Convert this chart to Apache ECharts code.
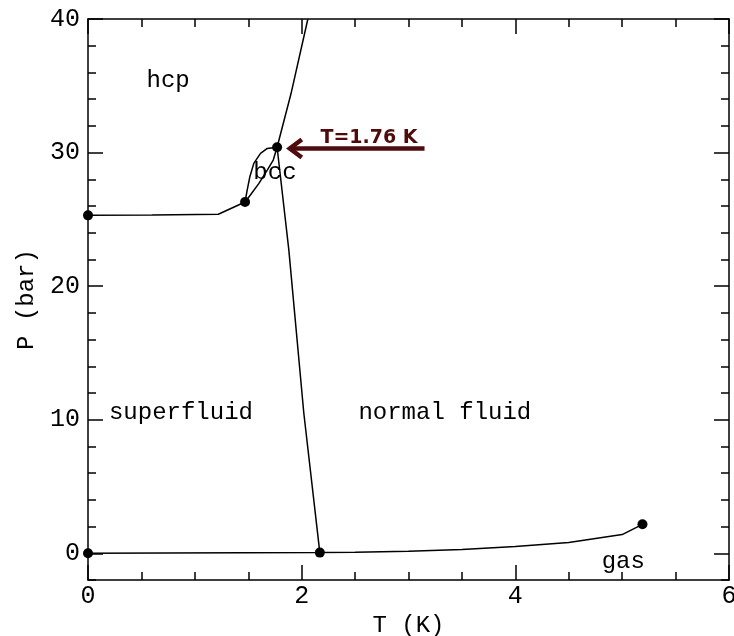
<!DOCTYPE html>
<html><head><meta charset="utf-8">
<script src="https://cdn.jsdelivr.net/npm/echarts@6/dist/echarts.min.js"></script>
<style>html,body{margin:0;padding:0;background:#fff}#c{width:734px;height:636px}</style>
</head><body><div id="c"></div>
<script>
// ---- data (T in K, P in bar) ----
const meltLowT = [0, 0.6, 1.22, 1.47];
const meltLowP = [25.3, 25.32, 25.38, 26.3];
const meltHighT = [1.77, 1.9, 2.058];
const meltHighP = [30.4, 34.4, 40];
const bccLeftT = [1.47, 1.49, 1.515, 1.552, 1.615, 1.678, 1.77];
const bccLeftP = [26.3, 27.19, 28.19, 29.19, 29.94, 30.31, 30.4];
const bccRightT = [1.47, 1.52, 1.60, 1.678, 1.734, 1.77];
const bccRightP = [26.3, 26.82, 27.69, 28.69, 29.44, 30.4];
const lambdaT = [1.77, 1.88, 2.02, 2.17];
const lambdaP = [30.4, 22.7, 10.5, 0.05];
const vaporT = [0, 2.17, 2.5, 3.0, 3.5, 4.0, 4.5, 5.0, 5.19];
const vaporP = [0, 0.05, 0.08, 0.15, 0.28, 0.5, 0.8, 1.4, 2.17];
const dotT = [0, 1.47, 1.77, 0, 2.17, 5.19];
const dotP = [25.3, 26.3, 30.4, 0, 0.05, 2.17];
const regionNames = ['hcp', 'bcc', 'superfluid', 'normal fluid', 'gas'];
const regionT = [0.75, 1.75, 0.87, 3.34, 5.01];
const regionP = [35.4, 28.5, 10.5, 10.5, -0.65];
const arrowLabel = 'T=1.76 K';
const arrowFromT = 3.15, arrowToT = 1.87, arrowP = 30.3;
const arrowLabelT = 2.63, arrowLabelP = 31.1;
const xTicks = [0, 2, 4, 6];
const yTicks = [0, 10, 20, 30, 40];
const yMinorStep = 2;

const FONT = 'Liberation Mono';
const zip = (a, b) => a.map((v, i) => [v, b[i]]);
const LS = {color: '#000', width: 1.5};
function curve(T, P) {
  return {type: 'line', data: zip(T, P), symbol: 'none', lineStyle: LS, silent: true, clip: true, z: 3};
}
const tickStyle = {color: '#000', width: 1.5};
const GRID = {left: 88, right: 5, top: 19, bottom: 56, containLabel: false, outerBoundsMode: 'none'};
function xAx(pos, showLabel) {
  return {
    type: 'value', gridIndex: 0, position: pos, min: 0, max: 6, interval: 2,
    axisLine: {show: true, onZero: false, lineStyle: {color: '#000', width: 1.5}},
    axisTick: {inside: true, length: 15, lineStyle: tickStyle},
    minorTick: {show: true, splitNumber: 4, length: 8, lineStyle: tickStyle},
    splitLine: {show: false},
    axisLabel: {show: showLabel, customValues: xTicks, fontFamily: FONT, fontSize: 25, color: '#000', margin: 4},
    name: showLabel ? 'T (K)' : '', nameLocation: 'middle', nameGap: 28,
    nameTextStyle: {fontFamily: FONT, fontSize: 24, color: '#000'}
  };
}
function yAxMinor(pos, showLabel) {
  return {
    type: 'value', gridIndex: 0, position: pos, min: -2, max: 40, interval: yMinorStep,
    axisLine: {show: true, onZero: false, lineStyle: {color: '#000', width: 1.5}},
    axisTick: {inside: true, length: 8, lineStyle: tickStyle},
    splitLine: {show: false},
    axisLabel: {show: showLabel, customValues: yTicks, fontFamily: FONT, fontSize: 25, color: '#000', margin: 8},
    name: showLabel ? 'P (bar)' : '', nameLocation: 'middle', nameGap: 48, nameRotate: 90,
    nameTextStyle: {fontFamily: FONT, fontSize: 24, color: '#000'}
  };
}
function yAxMajor(pos) {
  return {
    type: 'value', gridIndex: 1, position: pos, min: -2, max: 40, interval: yMinorStep,
    axisLine: {show: false, onZero: false},
    axisTick: {show: true, inside: true, length: 15, customValues: yTicks, lineStyle: tickStyle},
    splitLine: {show: false},
    axisLabel: {show: false}
  };
}
const chart = echarts.init(document.getElementById('c'), null, {renderer: 'canvas'});
const option = {
  animation: false,
  backgroundColor: '#fff',
  grid: [Object.assign({}, GRID), Object.assign({}, GRID)],
  xAxis: [xAx('bottom', true), xAx('top', false),
          {type: 'value', gridIndex: 1, min: 0, max: 6, interval: 2, show: false}],
  yAxis: [yAxMinor('left', true), yAxMinor('right', false), yAxMajor('left'), yAxMajor('right')],
  series: [
    curve(meltLowT, meltLowP),
    curve(meltHighT, meltHighP),
    curve(bccLeftT, bccLeftP),
    curve(bccRightT, bccRightP),
    curve(lambdaT, lambdaP),
    curve(vaporT, vaporP),
    {type: 'scatter', data: zip(dotT, dotP), symbol: 'circle', symbolSize: 10,
     itemStyle: {color: '#000', opacity: 1}, silent: true, z: 4},
    {type: 'scatter', data: regionNames.map((n, i) => ({name: n, value: [regionT[i], regionP[i]]})),
     symbolSize: 0, silent: true, z: 5, itemStyle: {opacity: 1},
     label: {show: true, position: 'inside', formatter: p => p.name, fontFamily: FONT, fontSize: 24, color: '#000', opacity: 1}},
    {type: 'scatter', data: [{name: arrowLabel, value: [arrowLabelT, arrowLabelP]}],
     symbolSize: 0, silent: true, z: 5, itemStyle: {opacity: 1},
     label: {show: true, position: 'inside', formatter: p => p.name, fontFamily: 'DejaVu Sans', fontWeight: 'bold', fontSize: 19, color: '#4e0c0c', opacity: 1}},
    {type: 'custom', silent: true, z: 6,
     data: [[arrowFromT, arrowP, arrowToT, arrowP]],
     renderItem: function (params, api) {
       const a = api.coord([api.value(0), api.value(1)]);
       const b = api.coord([api.value(2), api.value(3)]);
       const st = {stroke: '#4e0c0c', lineWidth: 4.5, fill: null, lineJoin: 'miter'};
       return {type: 'group', children: [
         {type: 'line', shape: {x1: a[0], y1: a[1], x2: b[0] + 3, y2: b[1]}, style: st},
         {type: 'polyline', shape: {points: [[b[0] + 14, b[1] - 9], [b[0] + 2, b[1]], [b[0] + 14, b[1] + 9]]}, style: st}
       ]};
     }}
  ]
};
chart.setOption(option);
</script></body></html>
